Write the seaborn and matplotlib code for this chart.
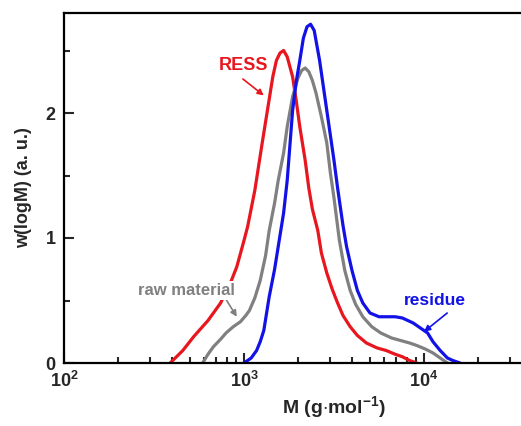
import numpy as np
import pandas as pd
import seaborn as sns
import matplotlib.pyplot as plt
from matplotlib.ticker import LogLocator, FuncFormatter, MultipleLocator, NullFormatter

# curves: log10(M) and w(logM)
ress_logm = [2.59, 2.66, 2.72, 2.80, 2.87, 2.93, 2.96, 3.00, 3.02, 3.06, 3.10, 3.13, 3.16, 3.18,
             3.20, 3.22, 3.24, 3.27, 3.29, 3.31, 3.34, 3.36, 3.38, 3.41, 3.43, 3.46, 3.49, 3.52,
             3.55, 3.59, 3.63, 3.68, 3.74, 3.79, 3.84, 3.88, 3.92, 3.96]
ress_w = [0.0, 0.10, 0.21, 0.34, 0.48, 0.66, 0.77, 0.98, 1.09, 1.38, 1.75, 2.02, 2.29, 2.42,
          2.48, 2.50, 2.45, 2.29, 2.10, 1.89, 1.62, 1.40, 1.23, 1.06, 0.88, 0.72, 0.59, 0.48,
          0.38, 0.29, 0.22, 0.16, 0.12, 0.10, 0.07, 0.05, 0.02, 0.0]

raw_logm = [2.77, 2.80, 2.83, 2.87, 2.90, 2.94, 2.98, 3.01, 3.03, 3.06, 3.09, 3.12, 3.14, 3.17,
            3.19, 3.22, 3.24, 3.27, 3.30, 3.32, 3.34, 3.36, 3.38, 3.40, 3.43, 3.46, 3.48, 3.50,
            3.53, 3.56, 3.59, 3.62, 3.66, 3.71, 3.76, 3.82, 3.87, 3.92, 3.96, 4.01, 4.05, 4.09, 4.13]
raw_w = [0.0, 0.07, 0.13, 0.19, 0.24, 0.29, 0.33, 0.38, 0.42, 0.52, 0.66, 0.86, 1.06, 1.28,
         1.46, 1.68, 1.89, 2.13, 2.28, 2.34, 2.36, 2.33, 2.26, 2.16, 1.97, 1.76, 1.52, 1.32,
         0.98, 0.74, 0.58, 0.47, 0.37, 0.29, 0.24, 0.20, 0.18, 0.16, 0.14, 0.11, 0.08, 0.04, 0.0]

res_logm = [3.00, 3.04, 3.07, 3.09, 3.11, 3.14, 3.17, 3.19, 3.22, 3.24, 3.27, 3.29, 3.31, 3.33,
            3.35, 3.37, 3.39, 3.42, 3.44, 3.46, 3.48, 3.50, 3.52, 3.55, 3.57, 3.60, 3.63, 3.66,
            3.70, 3.75, 3.79, 3.84, 3.88, 3.91, 3.94, 3.98, 4.02, 4.05, 4.09, 4.13, 4.16, 4.20]
res_w = [0.0, 0.04, 0.10, 0.17, 0.26, 0.53, 0.75, 0.93, 1.20, 1.46, 2.02, 2.25, 2.42, 2.60,
         2.69, 2.71, 2.66, 2.42, 2.22, 2.02, 1.82, 1.62, 1.40, 1.10, 0.93, 0.74, 0.58, 0.48,
         0.40, 0.37, 0.37, 0.37, 0.36, 0.34, 0.32, 0.28, 0.24, 0.17, 0.10, 0.04, 0.02, 0.0]

sns.set_style("ticks")
plt.rcParams['font.family'] = ['Liberation Sans', 'DejaVu Sans']
plt.rcParams['font.weight'] = 'bold'
plt.rcParams['mathtext.fontset'] = 'custom'
plt.rcParams['mathtext.rm'] = 'Liberation Sans:bold'
plt.rcParams['mathtext.bf'] = 'Liberation Sans:bold'

frames = []
for name, lm, w in [("RESS", ress_logm, ress_w), ("raw material", raw_logm, raw_w),
                    ("residue", res_logm, res_w)]:
    frames.append(pd.DataFrame({"M": 10 ** np.array(lm), "w": w, "sample": name}))
df = pd.concat(frames, ignore_index=True)

colors = {"RESS": "#e8161e", "raw material": "#808080", "residue": "#1212e6"}

fig = plt.figure(figsize=(5.21, 4.26), dpi=100)
ax = fig.add_axes([64 / 521, 63 / 426, 540 / 521, 350 / 426])
sns.lineplot(data=df, x="M", y="w", hue="sample", palette=colors, sort=False,
             linewidth=2.3, legend=False, ax=ax)

ax.set_xscale("log")
ax.set_xlim(1e2, 1e5)
ax.set_ylim(0, 2.8)
ax.xaxis.set_major_locator(LogLocator(base=10))
ax.xaxis.set_minor_locator(LogLocator(base=10, subs=np.arange(2, 10)))
ax.xaxis.set_minor_formatter(NullFormatter())


def xfmt(v, p):
    e = round(np.log10(v))
    return r'$\mathbf{10^{%d}}$' % e if e <= 4 else ""


ax.xaxis.set_major_formatter(FuncFormatter(xfmt))
ax.yaxis.set_major_locator(MultipleLocator(1))
ax.yaxis.set_minor_locator(MultipleLocator(0.5))
ax.yaxis.set_major_formatter(FuncFormatter(lambda v, p: "%d" % v))

ax.tick_params(which="major", direction="in", length=7, width=1.5, labelsize=13, pad=6)
ax.tick_params(which="minor", direction="in", length=4, width=1.5)
for s in ax.spines.values():
    s.set_linewidth(1.6)
    s.set_color("black")

ax.set_xlabel(r"M (g$\cdot$mol$^{-1}$)", fontsize=14, fontweight="bold", labelpad=2)
ax.set_ylabel("w(logM) (a. u.)", fontsize=13, fontweight="bold", labelpad=10)

ax.annotate("RESS", xy=(10 ** 3.11, 2.14), xytext=(10 ** 3.0, 2.38), color="#e8161e",
            fontsize=13, fontweight="bold", ha="center", va="center",
            arrowprops=dict(arrowstyle="-|>", color="#e8161e", lw=1.2, shrinkA=2, shrinkB=0,
                            relpos=(0.35, 0), mutation_scale=9))
ax.annotate("raw material", xy=(10 ** 2.96, 0.37), xytext=(10 ** 2.68, 0.58), color="#808080",
            fontsize=12, fontweight="bold", ha="center", va="center", zorder=5,
            bbox=dict(boxstyle="square,pad=0.1", fc="white", ec="none"),
            arrowprops=dict(arrowstyle="-|>", color="#808080", lw=1.2, shrinkA=0, shrinkB=0,
                            relpos=(0.9, 0), mutation_scale=9))
ax.annotate("residue", xy=(10 ** 4.0, 0.25), xytext=(10 ** 4.06, 0.50), color="#1212e6",
            fontsize=12.5, fontweight="bold", ha="center", va="center",
            arrowprops=dict(arrowstyle="-|>", color="#1212e6", lw=1.2, shrinkA=2, shrinkB=0,
                            relpos=(0.8, 0), mutation_scale=9))

fig.savefig("out.png", dpi=100)
